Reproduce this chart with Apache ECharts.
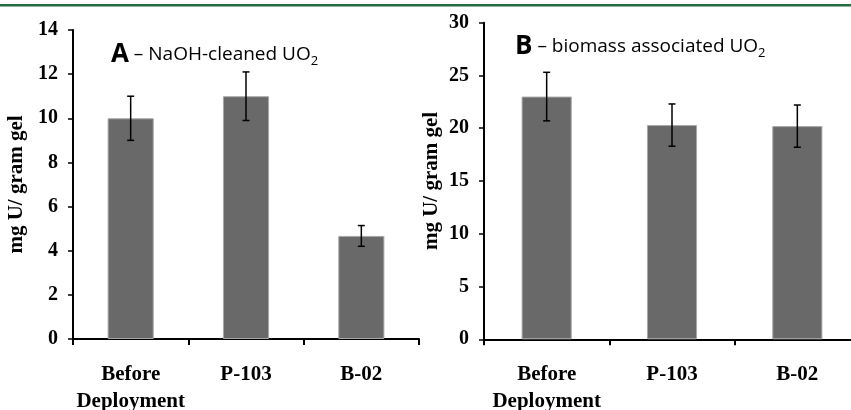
<!DOCTYPE html>
<html>
<head>
<meta charset="utf-8">
<script src="https://cdn.jsdelivr.net/npm/echarts@6/dist/echarts.min.js"></script>
<style>html,body{margin:0;padding:0;background:#fff;}#c{width:851px;height:410px;}</style>
</head>
<body>
<div id="c"></div>
<script>
var categories = ['Before\nDeployment', 'P-103', 'B-02'];
var aValues = [10.0, 11.0, 4.67];
var aErrors = [1.0, 1.1, 0.47];
var bValues = [23.0, 20.3, 20.2];
var bErrors = [2.3, 2.0, 2.0];
var aTicks = [0, 2, 4, 6, 8, 10, 12, 14];
var bTicks = [0, 5, 10, 15, 20, 25, 30];
var yName = 'mg U/ gram gel';

var serif = 'Liberation Serif';
var chart = echarts.init(document.getElementById('c'), null, {renderer: 'canvas'});

function errData(vals, errs) {
  return vals.map(function (v, i) { return [i, v - errs[i], v + errs[i]]; });
}
function errRender(params, api) {
  var x = api.value(0);
  var lo = api.coord([x, api.value(1)]);
  var hi = api.coord([x, api.value(2)]);
  var cap = 3.5;
  var st = {stroke: '#000', lineWidth: 1.5};
  return {
    type: 'group',
    children: [
      {type: 'line', shape: {x1: hi[0], y1: hi[1], x2: lo[0], y2: lo[1]}, style: st},
      {type: 'line', shape: {x1: hi[0] - cap, y1: hi[1], x2: hi[0] + cap, y2: hi[1]}, style: st},
      {type: 'line', shape: {x1: lo[0] - cap, y1: lo[1], x2: lo[0] + cap, y2: lo[1]}, style: st}
    ]
  };
}

function xAxis(idx) {
  return {
    type: 'category', gridIndex: idx, data: categories,
    axisLine: {lineStyle: {color: '#000', width: 2}},
    axisTick: {show: true, length: 6, lineStyle: {color: '#000', width: 2}},
    axisLabel: {color: '#000', fontFamily: serif, fontWeight: 'bold', fontSize: 21, lineHeight: 27, margin: 22, interval: 0, hideOverlap: false}
  };
}
function yAxis(idx, max, interval, gap) {
  return {
    type: 'value', gridIndex: idx, min: 0, max: max, interval: interval,
    name: yName, nameLocation: 'middle', nameGap: gap, nameRotate: 90,
    nameTextStyle: {color: '#000', fontFamily: serif, fontWeight: 'bold', fontSize: 21},
    axisLine: {show: true, lineStyle: {color: '#000', width: 2}},
    axisTick: {show: true, length: 5, lineStyle: {color: '#000', width: 1.5}},
    splitLine: {show: false},
    axisLabel: {color: '#000', fontFamily: serif, fontWeight: 'bold', fontSize: 20, margin: 15}
  };
}

var barStyle = {color: '#696969', borderColor: '#a8a8a8', borderWidth: 1};
var titleRich = {
  a: {fontFamily: 'Open Sans', fontWeight: 'bold', fontSize: 26, color: '#000', lineHeight: 30},
  b: {fontFamily: 'Open Sans', fontWeight: 'normal', fontSize: 19, color: '#000', lineHeight: 30},
  s: {fontFamily: 'Open Sans', fontWeight: 'normal', fontSize: 13, color: '#000', lineHeight: 30, padding: [12, 0, 0, 0]}
};

chart.setOption({
  animation: false,
  backgroundColor: '#fff',
  graphic: [
    {type: 'rect', left: 0, top: 4, shape: {width: 851, height: 2.5}, style: {fill: '#246b3f'}}
  ],
  title: [
    {text: '{a|A}{b| – NaOH-cleaned UO}{s|2}', left: 106, top: 35, textStyle: {fontWeight: 'normal', rich: titleRich}},
    {text: '{a|B}{b| – biomass associated UO}{s|2}', left: 510, top: 27, textStyle: {fontWeight: 'normal', rich: titleRich}}
  ],
  grid: [
    {left: 73, top: 30, width: 346, height: 309, containLabel: false, outerBoundsMode: 'none'},
    {left: 484, top: 22.7, width: 376, height: 316.6, containLabel: false, outerBoundsMode: 'none'}
  ],
  xAxis: [xAxis(0), xAxis(1)],
  yAxis: [yAxis(0, 14, 2, 46), yAxis(1, 30, 5, 42)],
  series: [
    {type: 'bar', xAxisIndex: 0, yAxisIndex: 0, data: aValues, barWidth: '40%', itemStyle: barStyle},
    {type: 'custom', xAxisIndex: 0, yAxisIndex: 0, data: errData(aValues, aErrors), renderItem: errRender, z: 10},
    {type: 'bar', xAxisIndex: 1, yAxisIndex: 1, data: bValues, barWidth: '40%', itemStyle: barStyle},
    {type: 'custom', xAxisIndex: 1, yAxisIndex: 1, data: errData(bValues, bErrors), renderItem: errRender, z: 10}
  ]
});
</script>
</body>
</html>
